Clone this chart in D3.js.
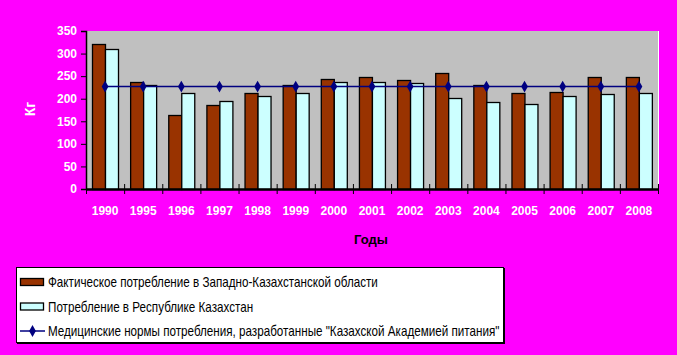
<!DOCTYPE html>
<html>
<head>
<meta charset="utf-8">
<script src="https://cdn.jsdelivr.net/npm/d3@7"></script>
<style>
  body { margin: 0; background: #ff00ff; }
  svg { display: block; font-family: "Liberation Sans", Arial, sans-serif; }
</style>
</head>
<body>
<div id="chart"></div>
<script>
const years = ["1990", "1995", "1996", "1997", "1998", "1999", "2000", "2001",
    "2002", "2003", "2004", "2005", "2006", "2007", "2008"];
const regional = [322, 236, 163, 185, 212, 230, 243, 247, 241, 256, 230, 212, 214, 247, 247];
const national = [311, 230, 212, 196, 207, 212, 236, 236, 234, 202, 192, 189, 207, 210, 212];
const norm = [227, 227, 227, 227, 227, 227, 227, 227, 227, 227, 227, 227, 227, 227, 227];
const yTicks = [0, 50, 100, 150, 200, 250, 300, 350];
const seriesNames = [
    "Фактическое потребление в Западно-Казахстанской области",
    "Потребление в Республике Казахстан",
    "Медицинские нормы потребления, разработанные \"Казахской Академией питания\""
];

const W = 677, H = 355;
const margin = { top: 31, right: 19, bottom: 166, left: 86 };
const width = W - margin.left - margin.right;
const height = H - margin.top - margin.bottom;

const svg = d3.select("#chart").append("svg")
    .attr("width", W)
    .attr("height", H);

svg.append("rect").attr("width", W).attr("height", H).attr("fill", "#ff00ff");

const g = svg.append("g")
    .attr("transform", `translate(${margin.left},${margin.top})`);

// plot background
g.append("rect")
    .attr("width", width)
    .attr("height", height)
    .attr("fill", "#c0c0c0");
g.append("line")
    .attr("x1", width + 0.5).attr("x2", width + 0.5)
    .attr("y1", 0).attr("y2", height)
    .attr("stroke", "#fff");

const x = d3.scaleBand().domain(years).range([0, width]).paddingInner(0).paddingOuter(0);
const inner = d3.scaleBand().domain([0, 1]).range([0, x.bandwidth()]).paddingOuter(0.45).paddingInner(0);
const y = d3.scaleLinear().domain([0, 350]).range([height, 0]);

const data = years.map((yr, i) => ({ year: yr, vals: [regional[i], national[i]], norm: norm[i] }));
const colors = ["#993300", "#ccffff"];

// bars
const grp = g.selectAll(".grp")
    .data(data)
    .join("g")
    .attr("class", "grp")
    .attr("transform", d => `translate(${x(d.year)},0)`);

grp.selectAll("rect")
    .data(d => d.vals.map((v, k) => ({ k, v })))
    .join("rect")
    .attr("x", d => Math.round(inner(d.k)) + 0.5)
    .attr("y", d => Math.round(y(d.v)) + 0.5)
    .attr("width", Math.round(inner.bandwidth()))
    .attr("height", d => height - Math.round(y(d.v)))
    .attr("fill", d => colors[d.k])
    .attr("stroke", "#000")
    .attr("stroke-width", 1.3);

// norm line
const line = d3.line()
    .x(d => x(d.year) + x.bandwidth() / 2)
    .y(d => y(d.norm));

g.append("path")
    .datum(data)
    .attr("d", line)
    .attr("fill", "none")
    .attr("stroke", "#000080")
    .attr("stroke-width", 1.5);

const diamond = d3.symbol().type(d3.symbolDiamond).size(40);
g.selectAll(".mk")
    .data(data)
    .join("path")
    .attr("class", "mk")
    .attr("transform", d => `translate(${x(d.year) + x.bandwidth() / 2},${y(d.norm)})`)
    .attr("d", diamond)
    .attr("fill", "#000080");

// y axis
const yAxis = g.append("g")
    .call(d3.axisLeft(y).tickValues(yTicks).tickSize(5).tickPadding(4));
yAxis.select(".domain").attr("stroke", "#000").attr("stroke-width", 1.5);
yAxis.selectAll(".tick line").attr("stroke", "#000");
yAxis.selectAll("text")
    .attr("fill", "#fff")
    .style("font-size", "12px")
    .style("font-weight", "bold");

// x axis
const xAxis = g.append("g")
    .attr("transform", `translate(0,${height})`)
    .call(d3.axisBottom(x).tickSize(0).tickPadding(17));
xAxis.select(".domain").attr("stroke", "#000").attr("stroke-width", 2.5);
xAxis.selectAll("text")
    .attr("fill", "#fff")
    .style("font-size", "12px")
    .style("font-weight", "bold");

// band boundary ticks
g.selectAll(".btick")
    .data(years.concat(["end"]))
    .join("line")
    .attr("class", "btick")
    .attr("x1", (d, i) => i * x.bandwidth() + 0.5)
    .attr("x2", (d, i) => i * x.bandwidth() + 0.5)
    .attr("y1", height - 5)
    .attr("y2", height + 5)
    .attr("stroke", "#000");

// axis titles
svg.append("text")
    .attr("transform", `translate(35,109) rotate(-90)`)
    .attr("text-anchor", "middle")
    .attr("fill", "#fff")
    .style("font-size", "14px")
    .style("font-weight", "bold")
    .text("Кг");

svg.append("text")
    .attr("x", 371)
    .attr("y", 244)
    .attr("text-anchor", "middle")
    .attr("fill", "#000")
    .style("font-size", "13px")
    .style("font-weight", "bold")
    .text("Годы");

// legend
const leg = svg.append("g").attr("transform", "translate(16,267)");
leg.append("rect")
    .attr("x", 1).attr("y", 1)
    .attr("width", 488).attr("height", 76)
    .attr("fill", "#000");
leg.append("rect")
    .attr("x", 0.5).attr("y", 0.5)
    .attr("width", 487).attr("height", 75)
    .attr("fill", "#fff")
    .attr("stroke", "#000");

const items = leg.selectAll(".item")
    .data(seriesNames)
    .join("g")
    .attr("class", "item")
    .attr("transform", (d, i) => `translate(0,${15 + i * 24.5})`);

items.filter((d, i) => i < 2).append("rect")
    .attr("x", 4.5).attr("y", -3.5)
    .attr("width", 23).attr("height", 7)
    .attr("fill", (d, i) => colors[i])
    .attr("stroke", "#000")
    .attr("stroke-width", 1.3);

const lastItem = items.filter((d, i) => i === 2);
lastItem.append("line")
    .attr("x1", 4).attr("x2", 29)
    .attr("y1", 0).attr("y2", 0)
    .attr("stroke", "#000080")
    .attr("stroke-width", 1.5);
lastItem.append("path")
    .attr("transform", "translate(16.5,0)")
    .attr("d", diamond)
    .attr("fill", "#000080");

// narrow-looking legend text
items.append("text")
    .attr("transform", "translate(32,5) scale(0.833,1)")
    .attr("fill", "#000")
    .style("font-size", "14px")
    .text(d => d);
</script>
</body>
</html>
